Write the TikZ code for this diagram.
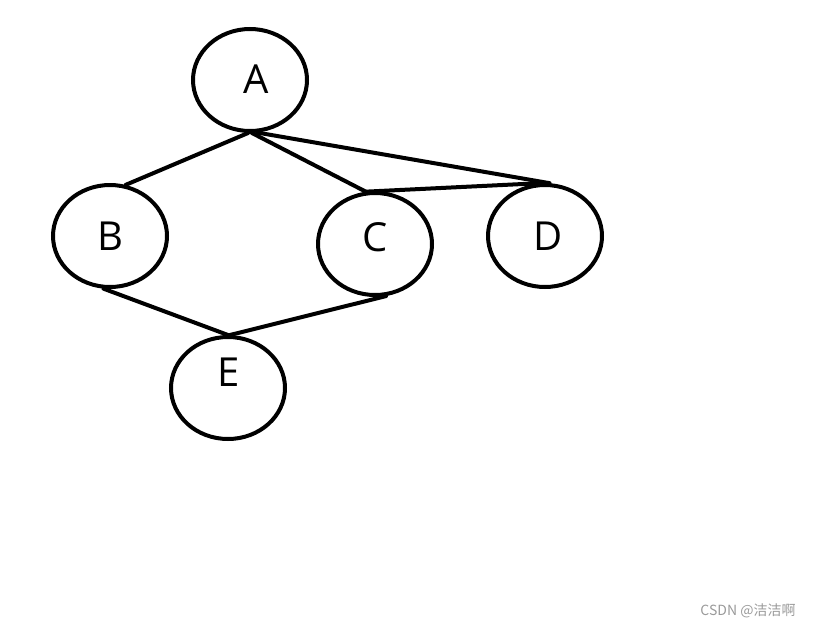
\documentclass[tikz,border=0pt]{standalone}
\usepackage{fontspec}
\setmainfont{Open Sans}
\newfontfamily\cjk{Noto Sans CJK SC}
\usetikzlibrary{shapes.geometric}
\definecolor{wmgray}{HTML}{9A9A9A}
\tikzset{
  vtx/.style={ellipse, draw=black, line width=3pt, minimum width=85.5pt, minimum height=76.5pt, inner sep=0pt},
  lbl/.style={font=\fontsize{30}{30}\selectfont, inner sep=0pt, anchor=center},
  edge/.style={line width=3pt, line cap=round}
}
\begin{document}
\begin{tikzpicture}[x=0.75pt, y=-0.75pt]
\useasboundingbox (0,0) rectangle (813,628);
\node[vtx] (A) at (250,80) {};
\node[vtx] (B) at (110,236) {};
\node[vtx] (C) at (375,244) {};
\node[vtx] (D) at (545,236) {};
\node[vtx] (E) at (228,388) {};
\node[lbl] (tA) at (256,79) {A};
\node[lbl] (tB) at (110,236) {B};
\node[lbl] (tC) at (375,237) {C};
\node[lbl] (tD) at (548,236) {D};
\node[lbl] (tE) at (229,372) {E};
\draw[edge] (A.-92) -- (B.73);
\draw[edge] (A.-88) -- (C.100);
\draw[edge] (A.-82) -- (D.85);
\draw[edge] (C.100) -- (D.93);
\draw[edge] (B.-97) -- (E.90);
\draw[edge] (C.-78) -- (E.88);
\node[text=wmgray, font=\cjk\fontsize{10.5}{12}\selectfont, inner sep=0pt] (wm) at (748,611) {CSDN @洁洁啊};
\end{tikzpicture}
\end{document}
